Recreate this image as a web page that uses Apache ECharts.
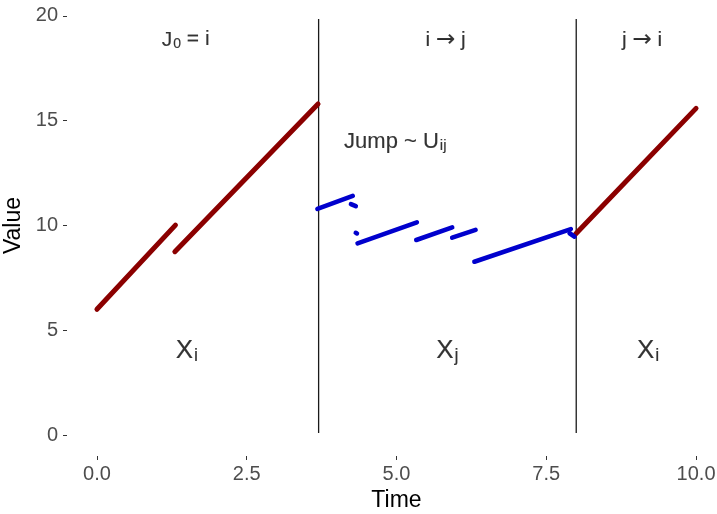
<!DOCTYPE html>
<html>
<head>
<meta charset="utf-8">
<script src="https://cdn.jsdelivr.net/npm/echarts@6/dist/echarts.min.js"></script>
<style>
  html, body { margin: 0; padding: 0; background: #fff; }
  #chart { width: 717px; height: 514px; }
</style>
</head>
<body>
<div id="chart"></div>
<script>
// ---- data ----
const xTicks = [0, 2.5, 5, 7.5, 10];
const yTicks = [0, 5, 10, 15, 20];

// state i paths (dark red)
const redPaths = [
  [[0.00, 6.00], [1.31, 10.02]],
  [[1.30, 8.75], [3.69, 15.80]],
  [[7.99, 9.59], [10.00, 15.59]]
];
// state j paths (blue)
const bluePaths = [
  [[3.68, 10.79], [4.27, 11.41]],
  [[4.24, 11.02], [4.32, 10.92]],
  [[4.32, 9.65], [4.34, 9.62]],
  [[4.35, 9.15], [5.34, 10.15]],
  [[5.33, 9.31], [5.93, 9.91]],
  [[5.93, 9.42], [6.32, 9.79]],
  [[6.30, 8.27], [7.91, 9.83]],
  [[7.89, 9.63], [7.97, 9.47]]
];
// regime switch times
const switchTimes = [3.7, 8.0];
const switchYFrom = 0.1;
const switchYTo = 19.85;

// annotations
const topLabelX = [1.48, 5.82, 9.1];
const topLabelY = [18.85, 18.85, 18.85];
const topLabelText = ['J{sub|0}{m| = i}', 'i {arr|\u2192} j', 'j {arr|\u2192} i'];

const jumpLabelX = [4.98];
const jumpLabelY = [14.0];
const jumpLabelText = ['Jump ~ U{sub|ij}'];

const stateLabelX = [1.5, 5.85, 9.2];
const stateLabelY = [4.0, 4.0, 4.0];
const stateLabelText = ['X{sub|i}', 'X{sub|j}', 'X{sub|i}'];

// ---- chart ----
const FONT = '"Liberation Sans", Arial, sans-serif';
const chart = echarts.init(document.getElementById('chart'), null, { renderer: 'canvas' });

const series = [];
redPaths.forEach(p => series.push({
  type: 'line', data: p, showSymbol: false, silent: true, clip: false,
  lineStyle: { color: '#8B0000', width: 5, cap: 'round' }, z: 3
}));
bluePaths.forEach(p => series.push({
  type: 'line', data: p, showSymbol: false, silent: true, clip: false,
  lineStyle: { color: '#0000CD', width: 4.6, cap: 'round' }, z: 3
}));
switchTimes.forEach(t => series.push({
  type: 'line', data: [[t, switchYFrom], [t, switchYTo]], showSymbol: false, silent: true, clip: false,
  lineStyle: { color: '#1a1a1a', width: 1.3 }, z: 2
}));

function textSeries(xs, ys, texts, size, subSize, subPad) {
  const base = { fontFamily: FONT, color: '#000', textBorderColor: '#000', textBorderWidth: 0.15 };
  return {
    type: 'scatter', symbolSize: 0, silent: true, clip: false, z: 5,
    data: xs.map((x, i) => ({ value: [x, ys[i]], name: texts[i] })),
    label: Object.assign({
      show: true, position: 'inside',
      formatter: p => p.name,
      fontSize: size,
      rich: {
        m: Object.assign({}, base, { fontSize: size, verticalAlign: 'top' }),
        arr: Object.assign({}, base, { fontFamily: '"DejaVu Sans", sans-serif', fontSize: size + 2, verticalAlign: 'top' }),
        sub: Object.assign({}, base, { fontSize: subSize, verticalAlign: 'bottom', padding: [subPad, 0, 0, 1] })
      }
    }, base)
  };
}
series.push(textSeries(topLabelX, topLabelY, topLabelText, 21, 14, 8));
series.push(textSeries(jumpLabelX, jumpLabelY, jumpLabelText, 22, 15, 8));
series.push(textSeries(stateLabelX, stateLabelY, stateLabelText, 26, 18, 10));

chart.setOption({
  animation: false,
  backgroundColor: '#ffffff',
  grid: { left: 67, width: 659, top: -5, height: 461, containLabel: false, outerBoundsMode: 'none' },
  xAxis: {
    type: 'value', min: -0.5, max: 10.5,
    axisLine: { show: false, onZero: false },
    splitLine: { show: false },
    axisTick: { show: true, customValues: xTicks, length: 4, lineStyle: { color: '#333', width: 1 } },
    axisLabel: { customValues: xTicks, formatter: v => v.toFixed(1), color: '#4D4D4D', fontSize: 20, fontFamily: FONT, margin: 8 },
    name: 'Time', nameLocation: 'middle', nameGap: 30,
    nameTextStyle: { color: '#000', fontSize: 23, fontFamily: FONT }
  },
  yAxis: {
    type: 'value', min: -1, max: 21,
    axisLine: { show: false, onZero: false },
    splitLine: { show: false },
    axisTick: { show: true, customValues: yTicks, length: 4, lineStyle: { color: '#333', width: 1 } },
    axisLabel: { customValues: yTicks, color: '#4D4D4D', fontSize: 20, fontFamily: FONT, margin: 9 },
    name: 'Value', nameLocation: 'middle', nameGap: 39, nameRotate: 90,
    nameTextStyle: { color: '#000', fontSize: 23, fontFamily: FONT }
  },
  series: series
});
</script>
</body>
</html>
